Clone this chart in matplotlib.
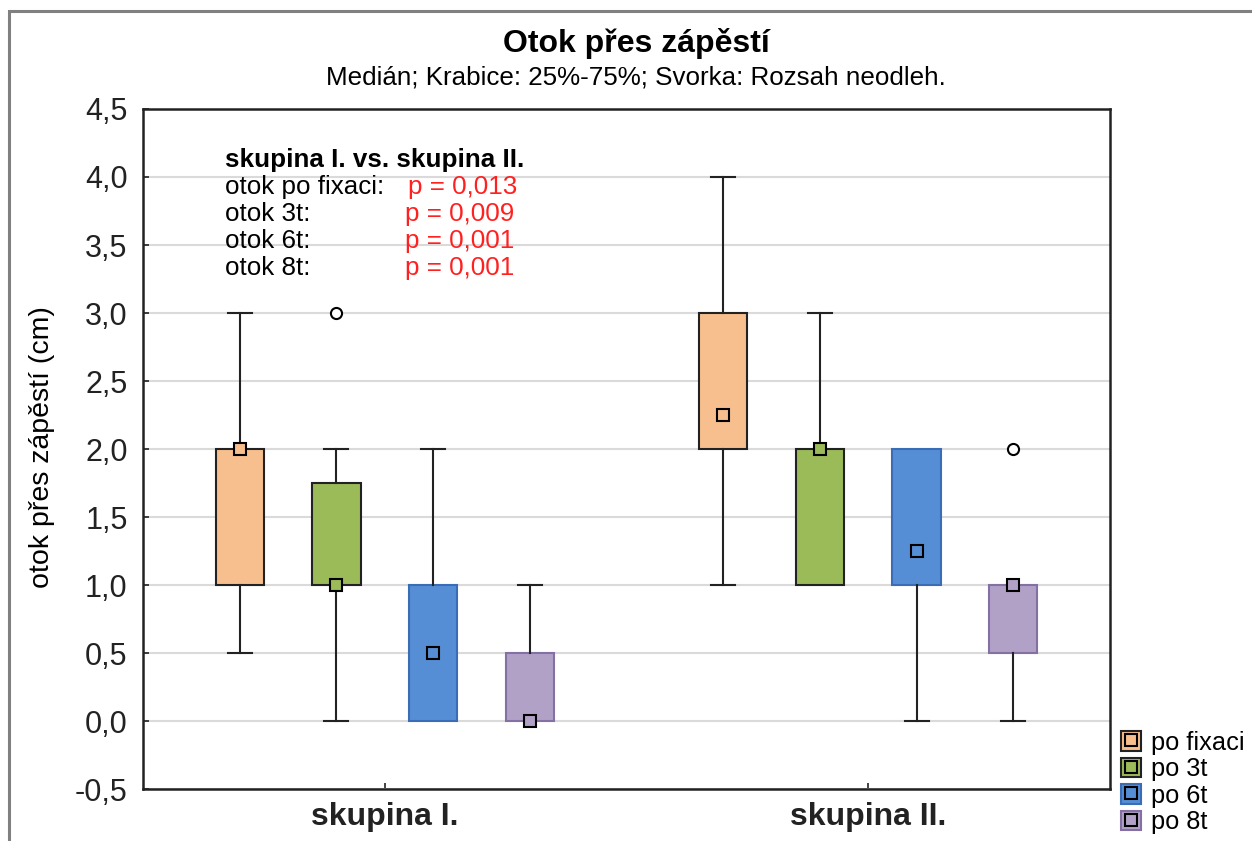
import matplotlib.pyplot as plt
from matplotlib.patches import Patch, Rectangle
from matplotlib.lines import Line2D

plt.rcParams['font.family'] = ['Liberation Sans', 'DejaVu Sans']

groups = ['skupina I.', 'skupina II.']
series = ['po fixaci', 'po 3t', 'po 6t', 'po 8t']
face_colors = ['#F8BF8E', '#9BBB59', '#558ED5', '#B1A1C7']
edge_colors = ['#222222', '#222222', '#3A6DB5', '#8570A3']

# per group, per series: (whislo, q1, med, q3, whishi)
stats_g1 = [(0.5, 1.0, 2.0, 2.0, 3.0),
            (0.0, 1.0, 1.0, 1.75, 2.0),
            (0.0, 0.0, 0.5, 1.0, 2.0),
            (0.0, 0.0, 0.0, 0.5, 1.0)]
stats_g2 = [(1.0, 2.0, 2.25, 3.0, 4.0),
            (1.0, 1.0, 2.0, 2.0, 3.0),
            (0.0, 1.0, 1.25, 2.0, 2.0),
            (0.0, 0.5, 1.0, 1.0, 1.0)]
outliers_g1 = [[], [3.0], [], []]
outliers_g2 = [[], [], [], [2.0]]

p_labels = ['otok po fixaci:', 'otok 3t:', 'otok 6t:', 'otok 8t:']
p_values = ['p = 0,013', 'p = 0,009', 'p = 0,001', 'p = 0,001']

yticks = [-0.5, 0.0, 0.5, 1.0, 1.5, 2.0, 2.5, 3.0, 3.5, 4.0, 4.5]

fig = plt.figure(figsize=(12.52, 8.41), dpi=100)
ax = fig.add_axes([0.1142, 0.0618, 0.7724, 0.8086])

# outer grey frame
fig.patches.append(Rectangle((0.0072, -0.05), 1.2, 0.9869 + 0.05, transform=fig.transFigure,
                             fill=False, edgecolor='#808080', linewidth=2.2, zorder=0))

group_centers = [2.5, 7.5]
offsets = [-1.5, -0.5, 0.5, 1.5]

for gc, stats, outs in zip(group_centers, [stats_g1, stats_g2], [outliers_g1, outliers_g2]):
    for i, (st, fl) in enumerate(zip(stats, outs)):
        lo, q1, med, q3, hi = st
        pos = gc + offsets[i]
        d = dict(whislo=lo, q1=q1, med=med, q3=q3, whishi=hi, fliers=fl)
        art = ax.bxp([d], positions=[pos], widths=0.5, capwidths=0.25, patch_artist=True,
                     showfliers=False,
                     boxprops=dict(facecolor=face_colors[i], edgecolor=edge_colors[i], linewidth=1.5),
                     whiskerprops=dict(color='#222222', linewidth=1.5),
                     capprops=dict(color='#222222', linewidth=1.5),
                     medianprops=dict(linewidth=0), zorder=3)
        # no cap when the whisker has zero length
        if lo == q1:
            art['caps'][0].set_visible(False)
        if hi == q3:
            art['caps'][1].set_visible(False)
        ax.plot([pos], [med], marker='s', markersize=8, markerfacecolor=face_colors[i],
                markeredgecolor='black', markeredgewidth=1.5, linestyle='none', zorder=5)
        if fl:
            ax.plot([pos] * len(fl), fl, marker='o', markersize=8, markerfacecolor='white',
                    markeredgecolor='black', markeredgewidth=1.5, linestyle='none', zorder=5)

ax.set_xlim(0, 10)
ax.set_ylim(-0.5, 4.5)
ax.set_yticks(yticks)
ax.set_yticklabels([f'{v:.1f}'.replace('.', ',') for v in yticks], fontsize=22)
ax.set_xticks(group_centers)
ax.set_xticklabels(groups, fontsize=23, fontweight='bold')
ax.tick_params(axis='both', direction='in', length=4, width=1.2, colors='#222222')
ax.tick_params(axis='y', pad=11)
ax.tick_params(axis='x', pad=9)
ax.yaxis.grid(True, color='#DADADA', linewidth=1.5, zorder=0)
ax.set_axisbelow(True)
for sp in ax.spines.values():
    sp.set_linewidth(1.8)
    sp.set_color('#222222')

fig.text(42 / 1252, 1 - 447 / 841, 'otok přes zápěstí (cm)', rotation=90, ha='center', va='center',
         fontsize=20.5)

fig.text(0.508, 0.948, 'Otok přes zápěstí', ha='center', va='center', fontsize=23, fontweight='bold')
fig.text(0.508, 0.908, 'Medián; Krabice: 25%-75%; Svorka: Rozsah neodleh.', ha='center', va='center',
         fontsize=18.7)

# annotation block
ax.text(0.085, 0.925, 'skupina I. vs. skupina II.', transform=ax.transAxes, ha='left', va='center',
        fontsize=18.7, fontweight='bold')
line_y = [0.885, 0.846, 0.806, 0.766]
for k, (lab, pv) in enumerate(zip(p_labels, p_values)):
    ax.text(0.085, line_y[k], lab, transform=ax.transAxes, ha='left', va='center', fontsize=18.7)
    ax.text(0.271 if k else 0.274, line_y[k], pv, transform=ax.transAxes, ha='left', va='center',
            fontsize=18.7, color='#FF2020')

handles = []
for i in range(4):
    handles.append((Patch(facecolor=face_colors[i], edgecolor=edge_colors[i], linewidth=1.5),
                    Line2D([], [], marker='s', markersize=8, markerfacecolor=face_colors[i],
                           markeredgecolor='black', markeredgewidth=1.5, linestyle='none')))
fig.legend(handles, series, loc='lower left', bbox_to_anchor=(0.895, 0.008), frameon=False,
           fontsize=18.3, handlelength=0.8, handleheight=0.8, handletextpad=0.4, labelspacing=0.1,
           borderaxespad=0, borderpad=0)

plt.savefig('out.png', dpi=100)
